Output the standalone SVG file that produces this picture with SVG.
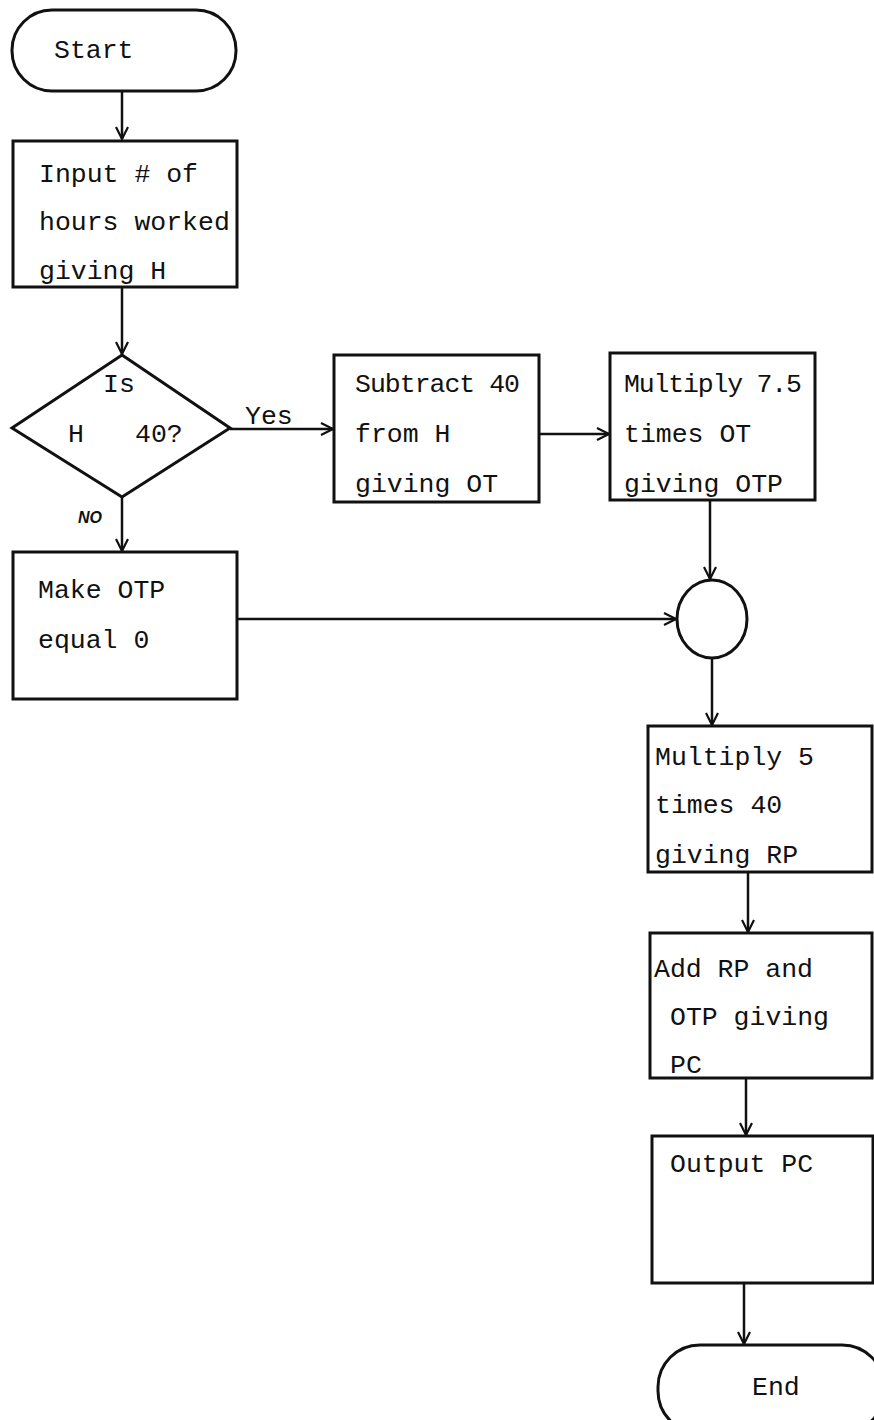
<svg xmlns="http://www.w3.org/2000/svg" width="874" height="1420" viewBox="0 0 874 1420">
<style>
.shape{fill:#fff;stroke:#111;stroke-width:3}
.t{font-family:"Liberation Mono","DejaVu Sans Mono",monospace;font-size:26.5px;fill:#111}
.c{fill:none;stroke:#111;stroke-width:2.5}
.lbl{font-family:"Liberation Sans",Arial,sans-serif;font-size:16px;font-weight:bold;font-style:italic;fill:#111}
</style>
<defs>
<marker id="arr" viewBox="0 0 14 14" refX="13" refY="7" markerWidth="14" markerHeight="14" markerUnits="userSpaceOnUse" orient="auto">
<polyline points="1,1 13,7 1,13" fill="none" stroke="#111" stroke-width="2.2"/>
</marker>
</defs>
<rect width="874" height="1420" fill="#fff"/>
<g id="connectors">
<line class="c" x1="122" y1="92" x2="122" y2="139" marker-end="url(#arr)"/>
<line class="c" x1="122" y1="287" x2="122" y2="354" marker-end="url(#arr)"/>
<line class="c" x1="230" y1="429" x2="333" y2="429" marker-end="url(#arr)"/>
<line class="c" x1="122" y1="497" x2="122" y2="551" marker-end="url(#arr)"/>
<line class="c" x1="539" y1="434" x2="609" y2="434" marker-end="url(#arr)"/>
<line class="c" x1="710" y1="500" x2="710" y2="579" marker-end="url(#arr)"/>
<line class="c" x1="237" y1="619" x2="676" y2="619" marker-end="url(#arr)"/>
<line class="c" x1="712" y1="658" x2="712" y2="725" marker-end="url(#arr)"/>
<line class="c" x1="748" y1="872" x2="748" y2="932" marker-end="url(#arr)"/>
<line class="c" x1="746" y1="1078" x2="746" y2="1135" marker-end="url(#arr)"/>
<line class="c" x1="744" y1="1283" x2="744" y2="1344" marker-end="url(#arr)"/>
<text class="t" x="245" y="424">Yes</text>
<text class="lbl" x="78" y="523">NO</text>
</g>
<g id="start">
<rect class="shape" x="12" y="10" width="224" height="81" rx="40"/>
<text class="t" x="54" y="58">Start</text>
</g>
<g id="input">
<rect class="shape" x="13" y="141" width="224" height="146"/>
<text class="t" x="39" y="182">Input # of</text>
<text class="t" x="39" y="230">hours worked</text>
<text class="t" x="39" y="279">giving H</text>
</g>
<g id="decision">
<polygon class="shape" points="122,355 230,428 122,497 12,428"/>
<text class="t" x="103" y="392">Is</text>
<text class="t" x="68" y="442">H</text>
<text class="t" x="135" y="442">40?</text>
</g>
<g id="subtract">
<rect class="shape" x="334" y="355" width="205" height="147"/>
<text class="t" x="355" y="392" textLength="165">Subtract 40</text>
<text class="t" x="355" y="442">from H</text>
<text class="t" x="355" y="492">giving OT</text>
</g>
<g id="multiply75">
<rect class="shape" x="610" y="353" width="205" height="147"/>
<text class="t" x="624" y="392" textLength="178">Multiply 7.5</text>
<text class="t" x="624" y="442">times OT</text>
<text class="t" x="624" y="492">giving OTP</text>
</g>
<g id="makeotp">
<rect class="shape" x="13" y="552" width="224" height="147"/>
<text class="t" x="38" y="598">Make OTP</text>
<text class="t" x="38" y="648">equal 0</text>
</g>
<g id="connector-circle">
<ellipse class="shape" cx="712" cy="619" rx="35" ry="39"/>
</g>
<g id="multiply5">
<rect class="shape" x="648" y="726" width="224" height="146"/>
<text class="t" x="655" y="765">Multiply 5</text>
<text class="t" x="655" y="813">times 40</text>
<text class="t" x="655" y="863">giving RP</text>
</g>
<g id="add">
<rect class="shape" x="650" y="933" width="222" height="145"/>
<text class="t" x="654" y="977">Add RP and</text>
<text class="t" x="670" y="1025">OTP giving</text>
<text class="t" x="670" y="1073">PC</text>
</g>
<g id="output">
<rect class="shape" x="652" y="1136" width="221" height="147"/>
<text class="t" x="670" y="1172">Output PC</text>
</g>
<g id="end">
<rect class="shape" x="658" y="1345" width="226" height="88" rx="42"/>
<text class="t" x="752" y="1395">End</text>
</g>
</svg>
